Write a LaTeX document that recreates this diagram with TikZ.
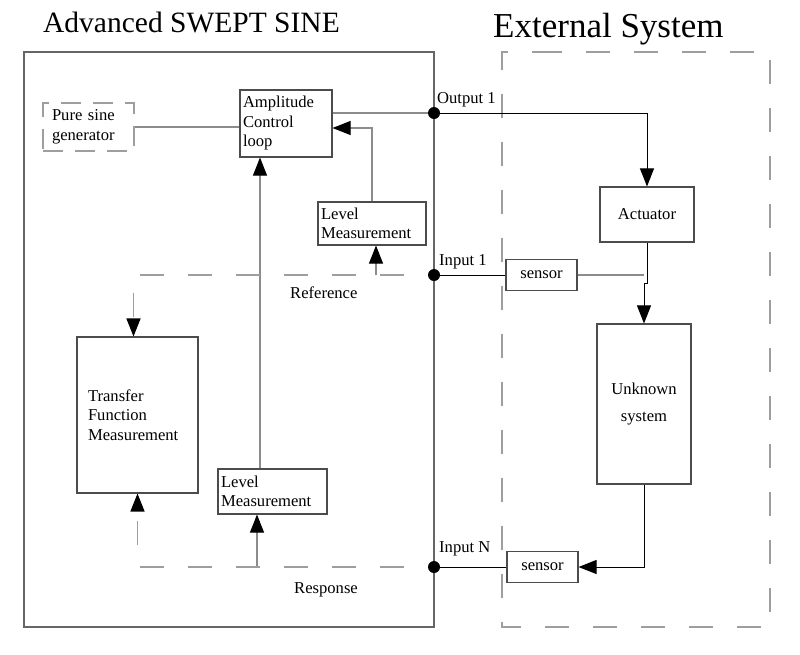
\documentclass[tikz,border=0pt]{standalone}
\usepackage{fontspec}
\setmainfont{Liberation Serif}
\usetikzlibrary{arrows.meta}

\definecolor{framegray}{gray}{0.4}
\definecolor{dashgray}{gray}{0.62}
\definecolor{wiregray}{gray}{0.55}
\definecolor{boxgray}{gray}{0.3}

\begin{document}
\begin{tikzpicture}[x=1pt,y=-1pt,>={Triangle[length=18pt,width=14pt,color=black]},
  font=\fontsize{16.6}{19.5}\selectfont,
  block/.style={draw=boxgray,line width=1.1pt,inner sep=3pt},
  frame/.style={draw=framegray,line width=1.8pt},
  dframe/.style={draw=dashgray,line width=1.6pt,dash pattern=on 24pt off 24pt},
  dline/.style={draw=dashgray,line width=1.4pt,dash pattern=on 24pt off 24pt,dash phase=24pt},
  wire/.style={draw=wiregray,line width=1.1pt},
  sig/.style={draw=black,line width=1pt},
  dot/.style={circle,fill=black,inner sep=0pt,minimum size=12pt},
  lbl/.style={anchor=base west,inner sep=0pt}]
  \useasboundingbox (0,0) rectangle (800,654);

  % titles
  \node[lbl,font=\fontsize{29.5}{30}\selectfont] (swept) at (43,32) {Advanced SWEPT SINE};
  \node[lbl,font=\fontsize{35}{36}\selectfont] (ext) at (493,37) {External System};

  % frames
  \draw[frame] (24,52) rectangle (434,627);
  \draw[dframe] (538,52) -- (770,52) -- (770,627) -- (502,627) -- (502,52) -- cycle;

  % blocks
  \node[block,draw=dashgray,dash pattern=on 20pt off 12pt,text width=73pt,inner xsep=9pt,
        minimum height=48pt,align=left] (pure) at (88.5,127) {Pure sine\\generator};
  \node[block,text width=86pt,align=left,minimum height=67pt] (amp) at (286,123.5) {Amplitude\\Control\\loop};
  \node[block,text width=102pt,align=left,minimum height=43pt] (lvlA) at (372,223.5) {Level\\Measurement};
  \node[block,text width=103pt,align=left,minimum height=45pt] (lvlB) at (272.5,491.5) {Level\\Measurement};
  \node[block,text width=99pt,inner xsep=11pt,align=left,minimum height=156pt] (tf) at (137.5,415) {Transfer\\Function\\Measurement};
  \node[block,minimum width=94pt,minimum height=55pt] (act) at (647,214.5) {Actuator};
  \node[block,minimum width=94pt,minimum height=160pt,align=center,
        font=\fontsize{16.6}{27}\selectfont] (unk) at (644,404) {Unknown\\system};
  \node[block,minimum width=71pt,minimum height=31pt] (sens1) at (541.5,275) {sensor};
  \node[block,minimum width=71pt,minimum height=31pt] (sensN) at (542.5,567) {sensor};

  % ports
  \node[dot] (out1) at (434,113) {};
  \node[dot] (in1) at (434,275) {};
  \node[dot] (inN) at (434,567) {};
  \node[lbl] (out1lbl) at (437,103) {Output 1};
  \node[lbl] (in1lbl) at (439,265) {Input 1};
  \node[lbl] (inNlbl) at (439,552) {Input N};
  \node[lbl] (reflbl) at (290,298) {Reference};
  \node[lbl] (resplbl) at (294,593) {Response};

  \coordinate (vline) at (260,0);
  \coordinate (reftap) at (376,275);
  \coordinate (resptap) at (257,567);
  \coordinate (jog) at (644,283);

  % left side
  \draw[wire] (pure.east) -- (pure.east -| amp.west);
  \draw[wire] (out1) -- (out1 -| amp.east);
  \draw[wire,->] (lvlA.north) |- ([yshift=-4.5pt]amp.east);
  \draw[wire,->] (vline |- lvlB.north) -- (vline |- amp.south);
  \draw[wire,->] (reftap) -- (reftap |- lvlA.south);
  \draw[wire,->] (resptap) -- (resptap |- lvlB.south);
  \draw[dline,->] (in1) -| ([xshift=-4pt]tf.north);
  \draw[dline,->] (inN) -| (tf.south);

  % right side
  \draw[sig,->] (out1) -| (act.north);
  \draw[sig,->] (act.south) |- (jog) -- (unk.north);
  \draw[sig] (in1) -- (sens1.west);
  \draw[wire] (sens1.east) -- (sens1.east -| jog);
  \draw[sig,->] (unk.south) |- (sensN.east);
  \draw[sig] (inN) -- (sensN.west);
\end{tikzpicture}
\end{document}
